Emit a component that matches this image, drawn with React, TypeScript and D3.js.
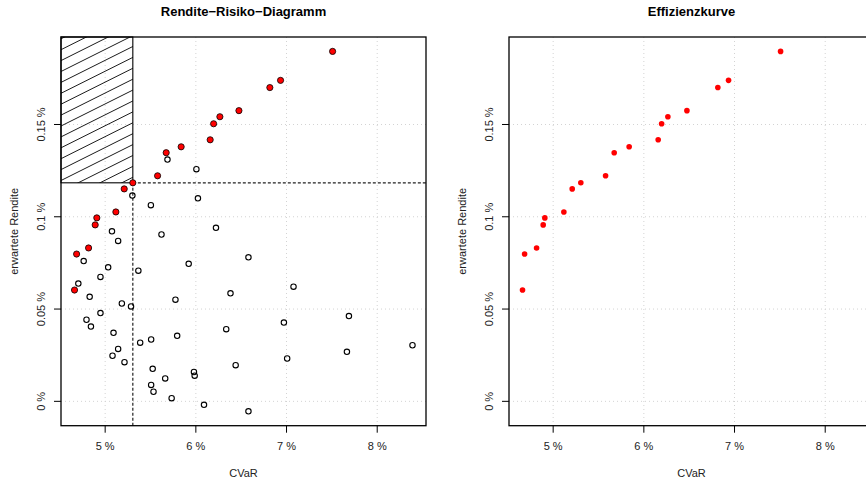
import React from "react";
import * as d3 from "d3";

// Efficient frontier portfolios (CVaR in %, expected return in %)
const frontierCvar = [7.508, 6.934, 6.816, 6.475, 6.265, 6.196, 6.158, 5.838, 5.673, 5.578, 5.305, 5.21, 5.118, 4.908, 4.89, 4.817, 4.685, 4.662];
const frontierReturn = [0.1896, 0.1739, 0.17, 0.1575, 0.1542, 0.1504, 0.1417, 0.1379, 0.1347, 0.1222, 0.1184, 0.1151, 0.1026, 0.0994, 0.0956, 0.0831, 0.0798, 0.0603];

// Random (non-efficient) portfolios
const portfolioCvar = [5.687, 6.006, 5.3, 5.504, 6.023, 5.075, 6.222, 5.621, 5.143, 4.763, 5.921, 5.033, 5.366, 6.58, 4.948, 4.704, 7.077, 6.382, 4.829, 5.775, 5.184, 5.285, 4.948, 7.688, 4.794, 4.843, 6.971, 6.335, 5.092, 5.794, 5.507, 5.386, 8.389, 5.143, 5.081, 7.666, 7.007, 5.213, 6.439, 5.524, 5.979, 5.987, 5.662, 5.507, 5.533, 5.733, 6.09, 6.58];
const portfolioReturn = [0.131, 0.1258, 0.1115, 0.1063, 0.11, 0.0921, 0.094, 0.0904, 0.0869, 0.076, 0.0745, 0.0726, 0.0708, 0.078, 0.0674, 0.0638, 0.0621, 0.0585, 0.0566, 0.0551, 0.053, 0.0514, 0.0478, 0.0462, 0.0442, 0.0405, 0.0427, 0.0391, 0.0371, 0.0355, 0.0335, 0.0318, 0.0304, 0.0284, 0.0247, 0.0268, 0.0232, 0.0212, 0.0196, 0.0176, 0.0159, 0.0139, 0.0124, 0.0089, 0.0052, 0.0017, -0.0019, -0.0054];

const xTicks = [5, 6, 7, 8];
const yTicks = [0, 0.05, 0.1, 0.15];
const selectedIndex = 10; // chosen portfolio on the frontier

const W = 866;
const H = 481;
const FONT = "'Liberation Sans', Arial, Helvetica, sans-serif";
const PLOT_W = 365;
const TOP = 37;
const BOTTOM = 425.7;

// R-style 4% padded extent
function padded(values: number[]): [number, number] {
  const [lo, hi] = d3.extent(values) as [number, number];
  const pad = (hi - lo) * 0.04;
  return [lo - pad, hi + pad];
}

const allCvar = [...frontierCvar, ...portfolioCvar];
const allReturn = [...frontierReturn, ...portfolioReturn];
const xDomain = padded(allCvar);
const yDomain = padded(allReturn);

const fmt = (v: number) => `${v} %`;

function Panel({ left, title, cloud }: { left: number; title: string; cloud: boolean }) {
  const x = d3.scaleLinear().domain(xDomain).range([left, left + PLOT_W]);
  const y = d3.scaleLinear().domain(yDomain).range([BOTTOM, TOP]);
  const right = left + PLOT_W;
  const cx = (left + right) / 2;
  const cy = (TOP + BOTTOM) / 2;
  const clipId = `hatch-${left}`;

  const selX = x(frontierCvar[selectedIndex]);
  const selY = y(frontierReturn[selectedIndex]);

  // hatch lines for the region with lower risk and higher return
  const hatch: number[] = [];
  for (let k = -2; k < 30; k++) hatch.push(TOP - 20 + k * 10.9);

  return (
    <g>
      <text x={cx} y={16} textAnchor="middle" fontFamily={FONT} fontWeight="bold" fontSize={13} fill="#000">
        {title}
      </text>

      {/* grid */}
      {xTicks.map((t) => (
        <line key={`gx${t}`} x1={x(t)} x2={x(t)} y1={TOP} y2={BOTTOM} stroke="#d3d3d3" strokeDasharray="1,3" />
      ))}
      {yTicks.map((t) => (
        <line key={`gy${t}`} x1={left} x2={right} y1={y(t)} y2={y(t)} stroke="#d3d3d3" strokeDasharray="1,3" />
      ))}

      {cloud && (
        <g>
          <clipPath id={clipId}>
            <rect x={left} y={TOP} width={selX - left} height={selY - TOP} />
          </clipPath>
          <g clipPath={`url(#${clipId})`}>
            {hatch.map((y0, i) => (
              <line key={i} x1={left} y1={y0} x2={selX + 5} y2={y0 - 0.5 * (selX + 5 - left)} stroke="#000" strokeWidth={0.9} />
            ))}
          </g>
          <rect x={left} y={TOP} width={selX - left} height={selY - TOP} fill="none" stroke="#000" strokeWidth={1.1} />
          <line x1={selX} x2={right} y1={selY} y2={selY} stroke="#222" strokeWidth={1.2} strokeDasharray="3,2" />
          <line x1={selX} x2={selX} y1={selY} y2={BOTTOM} stroke="#222" strokeWidth={1.2} strokeDasharray="3,2" />
          {portfolioCvar.map((v, i) => (
            <circle key={`p${i}`} cx={x(v)} cy={y(portfolioReturn[i])} r={2.7} fill="none" stroke="#000" strokeWidth={1.1} />
          ))}
          {frontierCvar.map((v, i) => (
            <circle key={`f${i}`} cx={x(v)} cy={y(frontierReturn[i])} r={3.1} fill="#ff0000" stroke="#000" strokeWidth={0.8} />
          ))}
        </g>
      )}
      {!cloud &&
        frontierCvar.map((v, i) => (
          <circle key={`e${i}`} cx={x(v)} cy={y(frontierReturn[i])} r={2.8} fill="#ff0000" />
        ))}

      {/* box */}
      <rect x={left} y={TOP} width={PLOT_W} height={BOTTOM - TOP} fill="none" stroke="#000" strokeWidth={1.3} />

      {/* x axis */}
      {xTicks.map((t) => (
        <g key={`xt${t}`}>
          <line x1={x(t)} x2={x(t)} y1={BOTTOM} y2={BOTTOM + 7} stroke="#000" />
          <text x={x(t)} y={450} textAnchor="middle" fontFamily={FONT} fontSize={11} fill="#222">
            {fmt(t)}
          </text>
        </g>
      ))}
      <text x={cx} y={477} textAnchor="middle" fontFamily={FONT} fontSize={11} fill="#222">
        CVaR
      </text>

      {/* y axis */}
      {yTicks.map((t) => (
        <g key={`yt${t}`}>
          <line x1={left - 7} x2={left} y1={y(t)} y2={y(t)} stroke="#000" />
          <text
            transform={`translate(${left - 16},${y(t)}) rotate(-90)`}
            textAnchor="middle"
            fontFamily={FONT}
            fontSize={11}
            fill="#222"
          >
            {fmt(t)}
          </text>
        </g>
      ))}
      <text
        transform={`translate(${left - 43},${cy}) rotate(-90)`}
        textAnchor="middle"
        fontFamily={FONT}
        fontSize={11}
        fill="#222"
      >
        erwartete Rendite
      </text>
    </g>
  );
}

export default function App() {
  return (
    <svg
      width={W}
      height={H}
      viewBox={`0 0 ${W} ${H}`}
      style={{ position: "absolute", left: 0, top: 0, background: "#fff" }}
    >
      <rect width={W} height={H} fill="#fff" />
      <Panel left={61} title="Rendite−Risiko−Diagramm" cloud={true} />
      <Panel left={509} title="Effizienzkurve" cloud={false} />
    </svg>
  );
}
